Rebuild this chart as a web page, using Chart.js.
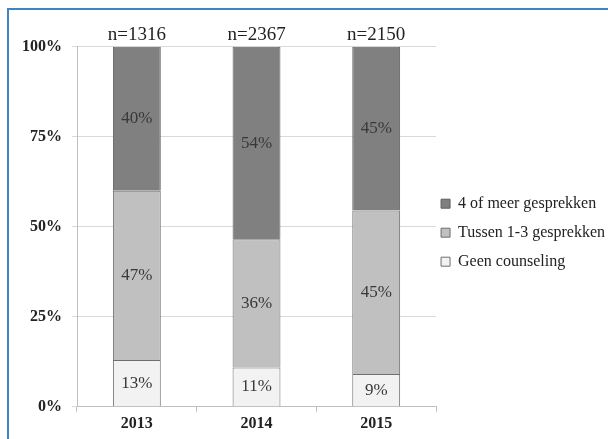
<!DOCTYPE html>
<html>
<head>
    <meta charset="utf-8">
    <title>Counseling per jaar</title>
    <style>
        body {
            margin: 0;
            background: white;
            overflow: hidden;
        }
        .frame {
            position: absolute;
            left: 7px;
            top: 8px;
            width: 620px;
            height: 460px;
            border-left: 2px solid #3d85c6;
            border-top: 2px solid #3d85c6;
        }
        .wrap {
            position: absolute;
            left: 0;
            top: 0;
            width: 608px;
            height: 439px;
            overflow: hidden;
        }
    </style>
    <script src="https://cdn.jsdelivr.net/npm/chart.js@4.4.1/dist/chart.umd.min.js"></script>
</head>
<body>
    <div class="frame"></div>
    <div class="wrap">
        <canvas id="chart" width="618" height="439"></canvas>
    </div>
    <script>
        const years = ['2013', '2014', '2015'];
        const counts = ['n=1316', 'n=2367', 'n=2150'];
        const geen = [13, 11, 9];
        const tussen = [47, 36, 45];
        const meer = [40, 54, 45];
        const yTicks = [0, 25, 50, 75, 100];

        // bars are shown as share of the column total, labels keep the rounded %
        const totals = years.map((_, i) => geen[i] + tussen[i] + meer[i]);
        const share = arr => arr.map((v, i) => v / totals[i] * 100);

        const serif = "'Liberation Serif', 'Times New Roman', serif";

        const pctLabels = {
            id: 'pctLabels',
            afterDatasetsDraw(chart) {
                const ctx = chart.ctx;
                ctx.save();
                ctx.font = '17px ' + serif;
                ctx.fillStyle = '#383838';
                ctx.textAlign = 'center';
                ctx.textBaseline = 'middle';
                chart.data.datasets.forEach((ds, di) => {
                    chart.getDatasetMeta(di).data.forEach((bar, i) => {
                        const mid = (bar.y + bar.base) / 2;
                        ctx.fillText(ds.raw[i] + '%', bar.x, mid);
                    });
                });
                ctx.restore();
            }
        };

        new Chart(document.getElementById('chart'), {
            type: 'bar',
            data: {
                labels: years,
                datasets: [
                    {
                        label: 'Geen counseling',
                        data: share(geen),
                        raw: geen,
                        backgroundColor: '#f2f2f2',
                        borderColor: '#6e6e6e',
                        borderWidth: 1
                    },
                    {
                        label: 'Tussen 1-3 gesprekken',
                        data: share(tussen),
                        raw: tussen,
                        backgroundColor: '#c0c0c0',
                        borderColor: '#6e6e6e',
                        borderWidth: 1
                    },
                    {
                        label: '4 of meer gesprekken',
                        data: share(meer),
                        raw: meer,
                        backgroundColor: '#808080',
                        borderColor: '#5e5e5e',
                        borderWidth: 1
                    }
                ]
            },
            options: {
                responsive: false,
                animation: false,
                barPercentage: 0.4,
                categoryPercentage: 1,
                layout: {
                    padding: { left: 12, right: 3, top: 24, bottom: 4 }
                },
                plugins: {
                    legend: {
                        position: 'right',
                        reverse: true,
                        maxWidth: 220,
                        title: {
                            display: true,
                            text: ' ',
                            font: { size: 2 },
                            padding: 6
                        },
                        labels: {
                            boxWidth: 9,
                            boxHeight: 9,
                            padding: 5,
                            color: '#222222',
                            font: { family: serif, size: 16, lineHeight: '24px' },
                            // one-line arrays so each row takes the full line height
                            generateLabels: chart =>
                                Chart.defaults.plugins.legend.labels.generateLabels(chart)
                                    .map(item => Object.assign(item, { text: [item.text] }))
                        }
                    },
                    tooltip: { enabled: false }
                },
                scales: {
                    x: {
                        stacked: true,
                        grid: {
                            drawOnChartArea: false,
                            drawTicks: true,
                            tickLength: 5,
                            color: '#bfbfbf'
                        },
                        border: { color: '#bfbfbf' },
                        ticks: {
                            color: '#222222',
                            font: { family: serif, size: 16, weight: 'bold' },
                            padding: 2
                        }
                    },
                    x2: {
                        type: 'category',
                        labels: counts,
                        position: 'top',
                        offset: true,
                        grid: { display: false, drawTicks: false },
                        border: { display: false },
                        ticks: {
                            color: '#222222',
                            font: { family: serif, size: 19 },
                            padding: 0
                        }
                    },
                    y: {
                        stacked: true,
                        min: 0,
                        max: 100,
                        afterBuildTicks: axis => {
                            axis.ticks = yTicks.map(v => ({ value: v }));
                        },
                        grid: {
                            color: '#d9d9d9',
                            tickLength: 5
                        },
                        border: { color: '#bfbfbf' },
                        ticks: {
                            color: '#222222',
                            font: { family: serif, size: 16, weight: 'bold' },
                            padding: 10,
                            callback: v => v + '%'
                        }
                    }
                }
            },
            plugins: [pctLabels]
        });
    </script>
</body>
</html>
